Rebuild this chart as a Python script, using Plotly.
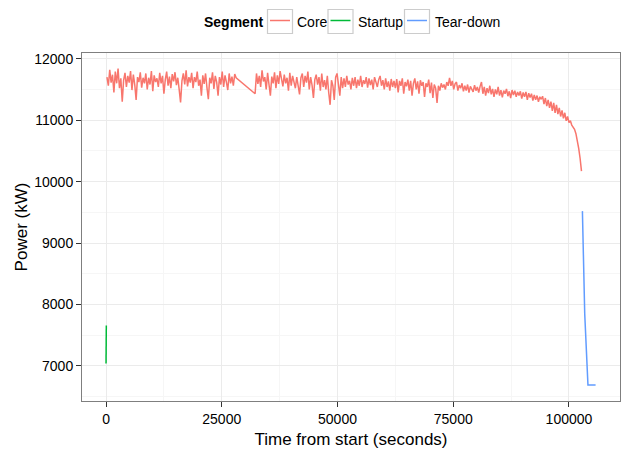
import plotly.graph_objects as go

# ---- Data -------------------------------------------------------------
# Core segment: power logged every 300 s, in two recorded runs
# (no samples were logged between ~28 ks and ~32 ks).
core_step = 300
core_run1_start = 200
core_run1 = [
    11700, 11560, 11820, 11610, 11740, 11450, 11790, 11600, 11840, 11520,
    11680, 11300, 11650, 11770, 11540, 11720, 11610, 11800, 11490, 11740,
    11580, 11330, 11700, 11620, 11780, 11530, 11690, 11600, 11760, 11500,
    11690, 11580, 11800, 11470, 11730, 11620, 11680, 11540, 11770, 11600,
    11720, 11430, 11660, 11790, 11560, 11710, 11520, 11750, 11630, 11780,
    11570, 11690, 11500, 11290, 11640, 11760, 11580, 11810, 11550, 11700,
    11610, 11770, 11520, 11700, 11620, 11790, 11560, 11660, 11400, 11730,
    11590, 11760, 11530, 11340, 11690, 11600, 11780, 11510, 11720, 11620,
    11400, 11700, 11580, 11790, 11540, 11730, 11620, 11490, 11760, 11600,
    11710, 11560, 11750, 11690,
]
core_run2_start = 32200
core_run2 = [
    11430,
    11760, 11590, 11720, 11540, 11810, 11630, 11700, 11500, 11770, 11580,
    11400, 11710, 11600, 11780, 11520, 11730, 11590, 11800, 11650, 11550,
    11740, 11600, 11690, 11480, 11770, 11560, 11720, 11630, 11520, 11700,
    11590, 11420, 11690, 11760, 11540, 11720, 11610, 11790, 11500, 11700,
    11570, 11360, 11660, 11740, 11580, 11700, 11480, 11760, 11540, 11650,
    11500, 11720, 11450, 11250, 11650, 11560, 11330, 11700, 11760, 11560,
    11400, 11700, 11520, 11680, 11540, 11720, 11580, 11640, 11500, 11690,
    11560, 11700, 11520, 11660, 11560, 11720, 11540, 11650, 11590, 11700,
    11530, 11680, 11570, 11660, 11500, 11700, 11590, 11540, 11660, 11720,
    11560, 11650, 11500, 11680, 11540, 11630, 11480, 11670, 11540, 11640,
    11520, 11670, 11450, 11640, 11560, 11680, 11430, 11620, 11550, 11660,
    11480, 11640, 11400, 11600, 11680, 11500, 11630, 11430, 11650, 11560,
    11620, 11380, 11600, 11540, 11660, 11440, 11610, 11360, 11580, 11520,
    11280, 11560, 11480, 11600, 11530, 11580, 11500, 11620, 11560, 11690,
    11560, 11640, 11500, 11590, 11620, 11480, 11570, 11520, 11600, 11470,
    11560, 11480, 11580, 11450, 11550, 11500, 11460, 11570, 11480, 11540,
    11450, 11550, 11620, 11430, 11540, 11400, 11520, 11440, 11560, 11420,
    11510, 11380, 11500, 11420, 11540, 11400, 11490, 11370, 11480, 11430,
    11510, 11390, 11470, 11360, 11490, 11410, 11480, 11380, 11460, 11400,
    11470, 11350, 11450, 11380, 11460, 11330, 11440, 11370, 11430, 11320,
    11410, 11330, 11400, 11300, 11380, 11340, 11390, 11260, 11360, 11230,
    11330, 11200, 11300, 11150, 11280, 11120, 11250, 11100, 11200, 11060,
    11160, 11030, 11120, 10990, 11060, 10960, 10990, 10920, 10880, 10850,
    10780, 10680, 10540, 10380, 10170,
]

startup_t = [0, 60]
startup_kw = [7040, 7660]

teardown_t = [102900, 103400, 104100, 105750]
teardown_kw = [9520, 7850, 6690, 6690]

x_ticks = [0, 25000, 50000, 75000, 100000]
y_ticks = [7000, 8000, 9000, 10000, 11000, 12000]

segment_names = ["Core", "Startup", "Tear-down"]
segment_colors = ["#F8766D", "#00BA38", "#619CFF"]

# ---- Build series -----------------------------------------------------
core_t = (
    [core_run1_start + core_step * i for i in range(len(core_run1))]
    + [core_run2_start + core_step * i for i in range(len(core_run2))]
)
core_kw = core_run1 + core_run2
series = [(core_t, core_kw), (startup_t, startup_kw), (teardown_t, teardown_kw)]

FONT = "Liberation Sans, Arial, Helvetica, sans-serif"
W, H = 622, 449
M_L, M_R, M_T, M_B = 82, 2, 53, 48
PW, PH = W - M_L - M_R, H - M_T - M_B
LINE_W = 1.5


def paper_x(px):
    return (px - M_L) / PW


def paper_y(py):
    return (H - M_B - py) / PH


fig = go.Figure()
for (t, kw), name, color in zip(series, segment_names, segment_colors):
    fig.add_trace(go.Scatter(x=t, y=kw, mode="lines", name=name,
                             showlegend=False,
                             line=dict(color=color, width=LINE_W)))

axis_common = dict(
    showline=True, mirror=True, linecolor="#7f7f7f", linewidth=1,
    ticks="outside", ticklen=5, tickwidth=1, tickcolor="#333333",
    showgrid=True, gridcolor="#ebebeb", gridwidth=1,
    zeroline=False, tickformat="d",
    tickfont=dict(family=FONT, size=14, color="#000000"),
)

fig.update_xaxes(
    **axis_common,
    range=[-5190, 111020], tickvals=x_ticks,
    minor=dict(showgrid=True, gridcolor="#f6f6f6", gridwidth=0.6,
               tickvals=[12500, 37500, 62500, 87500]),
    title=dict(text="Time from start (seconds)", standoff=8,
               font=dict(family=FONT, size=17, color="#000000")),
)
fig.update_yaxes(
    **axis_common,
    range=[6430, 12093], tickvals=y_ticks,
    minor=dict(showgrid=True, gridcolor="#f6f6f6", gridwidth=0.6,
               tickvals=[6500, 7500, 8500, 9500, 10500, 11500]),
    title=dict(text="Power (kW)", standoff=2,
               font=dict(family=FONT, size=17, color="#000000")),
)

# ---- Legend: titled row of boxed keys above the panel -----------------
legend_cy = 21.5
key_left = [267.5, 328, 404.5]
label_left = [295, 356, 432.5]
key_w, key_h = 25, 24

shapes = []
annotations = [dict(
    text="<b>Segment</b>", x=paper_x(201.5), y=paper_y(legend_cy),
    xref="paper", yref="paper", xanchor="left", yanchor="middle",
    showarrow=False, font=dict(family=FONT, size=14, color="#000000"),
)]
for name, color, kx, lx in zip(segment_names, segment_colors, key_left, label_left):
    shapes.append(dict(
        type="rect", xref="paper", yref="paper",
        x0=paper_x(kx), x1=paper_x(kx + key_w),
        y0=paper_y(legend_cy - key_h / 2), y1=paper_y(legend_cy + key_h / 2),
        line=dict(color="#cccccc", width=1.2), fillcolor="white",
    ))
    shapes.append(dict(
        type="line", xref="paper", yref="paper",
        x0=paper_x(kx + 2.5), x1=paper_x(kx + key_w - 2.5),
        y0=paper_y(legend_cy - 1), y1=paper_y(legend_cy - 1),
        line=dict(color=color, width=LINE_W),
    ))
    annotations.append(dict(
        text=name, x=paper_x(lx), y=paper_y(legend_cy),
        xref="paper", yref="paper", xanchor="left", yanchor="middle",
        showarrow=False, font=dict(family=FONT, size=14, color="#000000"),
    ))

fig.update_layout(
    width=W, height=H,
    margin=dict(l=M_L, r=M_R, t=M_T, b=M_B),
    paper_bgcolor="white", plot_bgcolor="white",
    font=dict(family=FONT, size=14, color="#000000"),
    showlegend=False,
    shapes=shapes,
    annotations=annotations,
)

fig.write_html("out.html")
